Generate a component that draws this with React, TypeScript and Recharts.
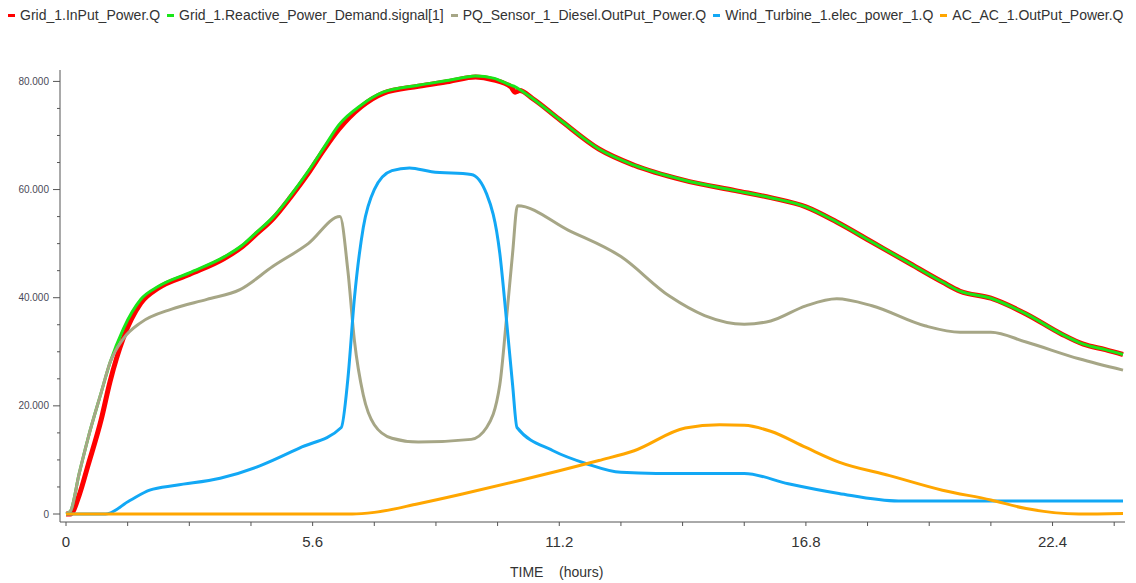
import { Line, LineChart, XAxis, YAxis } from 'recharts';

// time axis (hours) shared by the two grid series
const gridTime = [
  0, 0.1, 0.3, 0.5, 0.8, 1.0, 1.3, 1.7, 2.1, 2.8, 3.6, 4.0, 4.3, 4.7, 5.1, 5.5, 5.85, 6.2, 6.7, 7.2,
  8.0, 8.7, 9.3, 9.7, 10.1, 10.2, 10.3, 10.6, 11.2, 12.1, 12.9, 14.0, 15.2, 16.0, 16.8, 17.5, 18.3,
  19.1, 19.9, 20.3, 21.0, 21.8, 22.6, 23.1, 23.6, 24.0,
];
const gridInputPower = [
  0, 0, 3500, 9000, 17500, 24500, 32500, 39000, 41800, 44300, 47300, 49400, 51600, 54600, 58600,
  63000, 67300, 71200, 75300, 77800, 79100, 80000, 80800, 80300, 79000, 78000, 78300, 76800, 73000,
  67500, 64500, 61800, 59800, 58500, 56800, 54000, 50300, 46600, 42900, 41200, 39900, 37000, 33300,
  31400, 30400, 29500,
];
const reactiveDemand = [
  0, 500, 7500, 14000, 22500, 28000, 34200, 39700, 42100, 44600, 47600, 49700, 51900, 54900, 58900,
  63400, 67700, 72000, 75600, 78000, 79300, 80200, 81000, 80600, 79300, 79000, 78500, 76800, 73000,
  67500, 64500, 61800, 59800, 58500, 56800, 54000, 50300, 46600, 42900, 41200, 39900, 37000, 33300,
  31400, 30400, 29500,
];

const dieselTime = [
  0, 0.1, 0.3, 0.5, 0.8, 1.0, 1.3, 1.7, 2.4, 3.2, 3.95, 4.7, 5.5, 6.22, 6.4, 6.55, 6.75, 7.0, 7.4,
  8.0, 9.2, 9.55, 9.85, 10.0, 10.14, 10.25, 11.4, 12.6, 13.7, 14.5, 15.4, 16.0, 16.8, 17.5, 18.3,
  19.5, 20.3, 21.0, 21.8, 23.0, 24.0,
];
const dieselPower = [
  0, 500, 7500, 14000, 22500, 28000, 32400, 35400, 37900, 39700, 41500, 45800, 50000, 55000, 45000,
  32000, 22000, 16500, 14000, 13300, 13800, 16000, 23900, 36000, 48200, 57000, 52500, 47600, 40300,
  36700, 35100, 35700, 38500, 39800, 38500, 34800, 33600, 33600, 31800, 28700, 26600,
];

const windTime = [
  0, 0.9, 1.45, 1.9, 2.5, 3.5, 4.4, 5.3, 6.25, 6.4, 6.55, 6.75, 7.0, 7.4, 7.8, 8.3, 9.2, 9.55, 9.85,
  10.0, 10.14, 10.24, 11.06, 11.82, 12.6, 13.4, 15.4, 16.4, 17.55, 18.9, 24.0,
];
const windPower = [
  0, 0, 2500, 4400, 5300, 6600, 8900, 12200, 16000, 25000, 40000, 53000, 60000, 63500, 64000, 63300,
  62800, 59200, 48200, 36000, 23900, 16000, 11700, 9300, 7700, 7500, 7500, 5600, 3800, 2400, 2400,
];

const acTime = [
  0, 6.5, 7.0, 8.0, 9.0, 10.3, 11.2, 12.1, 12.9, 14.06, 14.84, 15.4, 16.0, 16.8, 17.55, 18.7, 19.9,
  21.0, 21.8, 23.0, 24.0,
];
const acPower = [
  0, 0, 300, 1900, 3700, 6200, 8000, 9900, 11700, 15900, 16500, 16400, 15300, 12300, 9600, 7100,
  4400, 2600, 1000, 0, 100,
];

const xTicks = [0, 1.4, 2.8, 4.2, 5.6, 7, 8.4, 9.8, 11.2, 12.6, 14, 15.4, 16.8, 18.2, 19.6, 21, 22.4, 23.8];
const yTicks = [0, 5000, 10000, 15000, 20000, 25000, 30000, 35000, 40000, 45000, 50000, 55000, 60000, 65000, 70000, 75000, 80000];

const toRows = (t: number[], v: number[]) => t.map((h, i) => ({ h, v: v[i] }));

const series = [
  { name: 'Grid_1.InPut_Power.Q', color: '#ff0000', width: 5, data: toRows(gridTime, gridInputPower) },
  { name: 'Grid_1.Reactive_Power_Demand.signal[1]', color: '#19e619', width: 3, data: toRows(gridTime, reactiveDemand) },
  { name: 'PQ_Sensor_1_Diesel.OutPut_Power.Q', color: '#a6a686', width: 3, data: toRows(dieselTime, dieselPower) },
  { name: 'Wind_Turbine_1.elec_power_1.Q', color: '#12a8f5', width: 3, data: toRows(windTime, windPower) },
  { name: 'AC_AC_1.OutPut_Power.Q', color: '#ffa600', width: 3, data: toRows(acTime, acPower) },
];

const axisColor = '#555';

function YTick(props: any) {
  const { x, y, payload } = props;
  const v = payload.value as number;
  const major = v % 20000 === 0;
  const label = v === 0 ? '0' : `${v / 1000}.000`;
  return (
    <g>
      <line x1={x - (major ? 7 : 3)} x2={x} y1={y} y2={y} stroke={axisColor} />
      {major && (
        <text x={x - 11} y={y} dy={3.5} textAnchor="end" fontSize={10} fill="#4a4a58" fontFamily="Liberation Sans, Arial">
          {label}
        </text>
      )}
    </g>
  );
}

function XTick(props: any) {
  const { x, y, payload } = props;
  const v = payload.value as number;
  const r = v / 5.6;
  const major = Math.abs(r - Math.round(r)) < 1e-6;
  return (
    <g>
      <line x1={x} x2={x} y1={y} y2={y + 4} stroke={axisColor} />
      {major && (
        <text x={x} y={y + 25} textAnchor="middle" fontSize={15} fill="#333" fontFamily="Liberation Sans, Arial">
          {v === 0 ? '0' : v.toFixed(1)}
        </text>
      )}
    </g>
  );
}

export default function App() {
  return (
    <div style={{ position: 'absolute', left: 0, top: 0, width: 1136, height: 583, background: '#fff' }}>
      <div
        style={{
          position: 'absolute',
          left: 8,
          top: 7,
          display: 'flex',
          gap: 7,
          fontFamily: 'Liberation Sans, Arial',
          fontSize: 14,
          color: '#333',
          whiteSpace: 'nowrap',
        }}
      >
        {series.map((s) => (
          <div key={s.name} style={{ display: 'flex', alignItems: 'center', gap: 5 }}>
            <span style={{ display: 'inline-block', width: 7, height: 3, background: s.color }} />
            <span>{s.name}</span>
          </div>
        ))}
      </div>
      <LineChart width={1136} height={583} margin={{ top: 70, right: 11, bottom: 31, left: 0 }}>
        <XAxis
          type="number"
          dataKey="h"
          domain={[0, 24]}
          ticks={xTicks}
          padding={{ left: 6, right: 2 }}
          height={30}
          stroke={axisColor}
          tickLine={false}
          tickSize={0}
          tickMargin={0}
          tick={<XTick />}
          interval={0}
        />
        <YAxis
          type="number"
          domain={[0, 80000]}
          ticks={yTicks}
          padding={{ top: 6, bottom: 8 }}
          width={60}
          stroke={axisColor}
          tickLine={false}
          tickSize={0}
          tickMargin={0}
          tick={<YTick />}
          interval={0}
        />
        {series.map((s) => (
          <Line
            key={s.name}
            data={s.data}
            dataKey="v"
            name={s.name}
            type="monotone"
            stroke={s.color}
            strokeWidth={s.width}
            dot={false}
            isAnimationActive={false}
          />
        ))}
      </LineChart>
      <div
        style={{
          position: 'absolute',
          left: 510,
          top: 564,
          fontFamily: 'Liberation Sans, Arial',
          fontSize: 14,
          color: '#333',
          whiteSpace: 'pre',
        }}
      >
        {'TIME    (hours)'}
      </div>
    </div>
  );
}
